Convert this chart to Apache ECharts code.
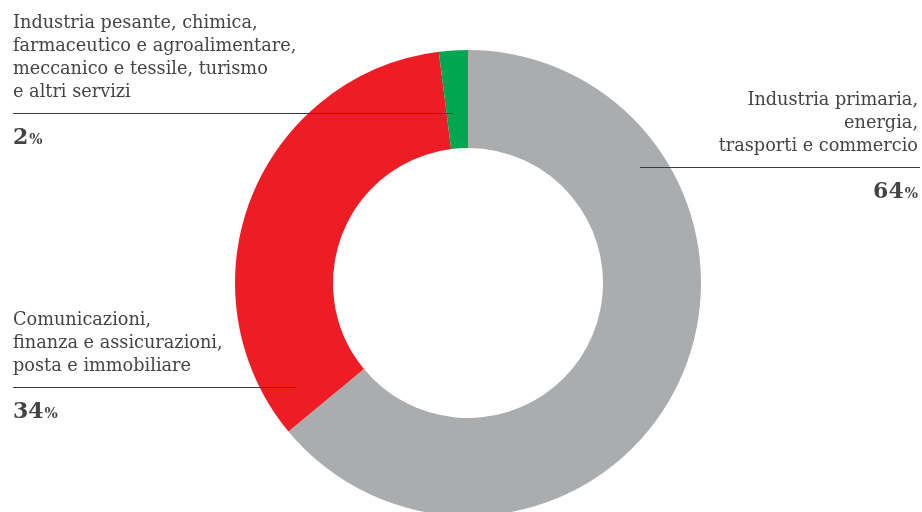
<!DOCTYPE html>
<html>
<head>
<meta charset="utf-8">
<script src="https://cdn.jsdelivr.net/npm/echarts@6/dist/echarts.min.js"></script>
<style>
    html, body { margin: 0; padding: 0; background: #fff; }
    #chart { width: 922px; height: 512px; }
</style>
</head>
<body>
<div id="chart"></div>
<script>
    // dati
    var categories = [
        'Industria primaria,\nenergia,\ntrasporti e commercio',
        'Comunicazioni,\nfinanza e assicurazioni,\nposta e immobiliare',
        'Industria pesante, chimica,\nfarmaceutico e agroalimentare,\nmeccanico e tessile, turismo\ne altri servizi'
    ];
    var values = [64, 34, 2];
    var colors = ['#abacae', '#ee1c25', '#00a650'];

    // posizione delle etichette: [x testo, y riga, allineamento, x inizio riga, x fine riga]
    var labelPos = [
        [918, 167, 'right', 640, 920],
        [13, 387, 'left', 13, 296],
        [13, 113, 'left', 13, 453]
    ];

    var textColor = '#444';
    var font = '"DejaVu Serif", serif';

    var chart = echarts.init(document.getElementById('chart'));

    var graphic = [];
    categories.forEach(function (name, i) {
        var p = labelPos[i];
        graphic.push({
            type: 'text',
            x: p[0],
            y: p[1] - 9,
            style: {
                text: name,
                fill: textColor,
                font: '17.7px ' + font,
                lineHeight: 23,
                align: p[2],
                verticalAlign: 'bottom'
            }
        });
        graphic.push({
            type: 'line',
            shape: { x1: p[3], y1: p[1] + 0.5, x2: p[4], y2: p[1] + 0.5 },
            style: { stroke: '#3a3a3a', lineWidth: 1 },
            z: 10
        });
        graphic.push({
            type: 'text',
            x: p[0],
            y: p[1] + 12,
            style: {
                text: '{n|' + values[i] + '}{p|%}',
                align: p[2],
                verticalAlign: 'top',
                rich: {
                    n: { fontFamily: font, fontWeight: 'bold', fontSize: 22, lineHeight: 24, fill: textColor, verticalAlign: 'bottom' },
                    p: { fontFamily: font, fontWeight: 'bold', fontSize: 14, lineHeight: 24, fill: textColor, verticalAlign: 'bottom', padding: [0, 0, 2, 1] }
                }
            }
        });
    });

    chart.setOption({
        animation: false,
        series: [{
            type: 'pie',
            center: [468, 283],
            radius: [135, 233],
            startAngle: 90,
            clockwise: true,
            silent: true,
            label: { show: false },
            labelLine: { show: false },
            data: categories.map(function (name, i) {
                return { name: name, value: values[i], itemStyle: { color: colors[i] } };
            })
        }],
        graphic: graphic
    });
</script>
</body>
</html>
